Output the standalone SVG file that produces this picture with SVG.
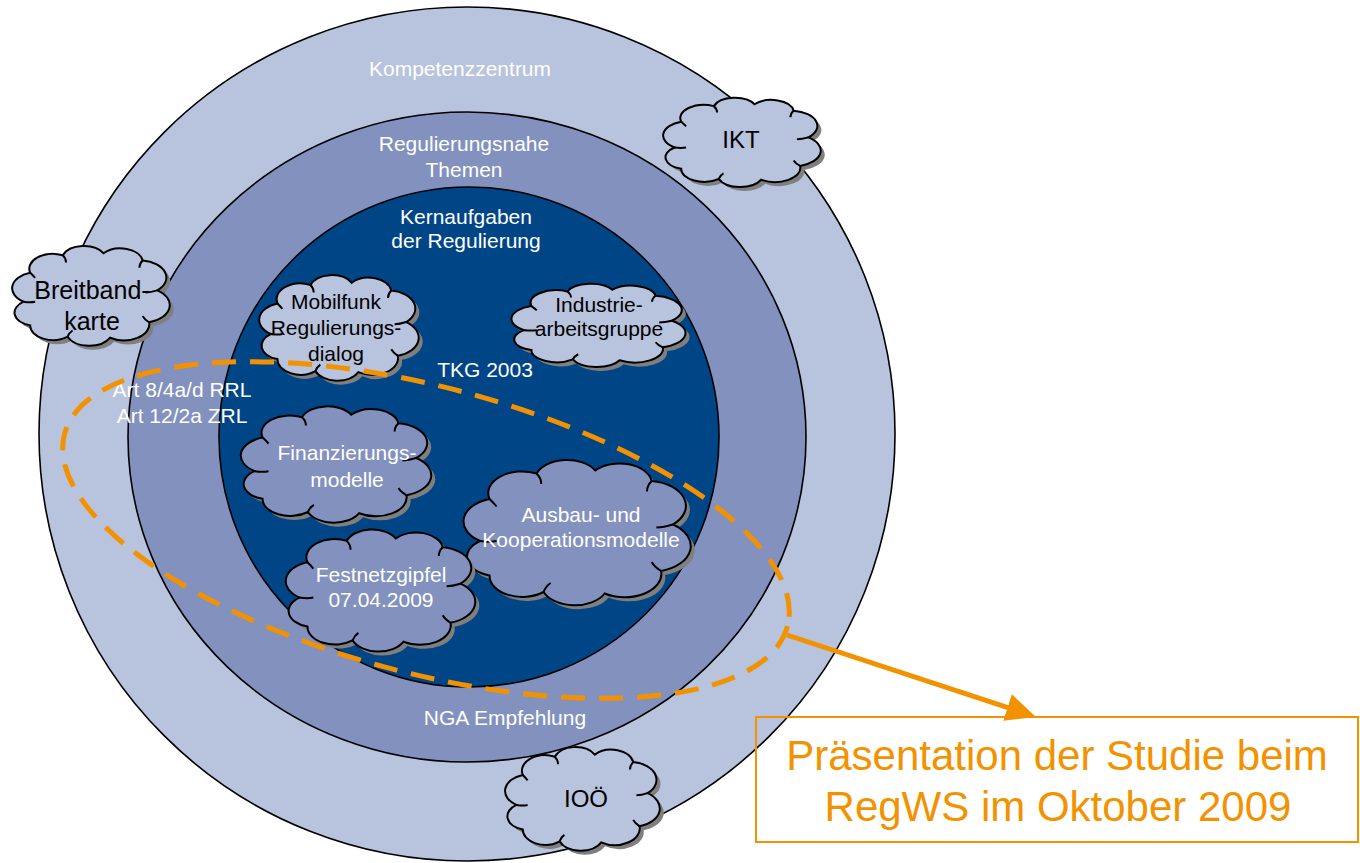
<svg xmlns="http://www.w3.org/2000/svg" xmlns:xlink="http://www.w3.org/1999/xlink" width="1360" height="863" viewBox="0 0 1360 863">
<style>
.ring{stroke:#000;stroke-width:1.6}
.outer{fill:#B8C3DD}
.middle{fill:#8291BE}
.inner{fill:#004586}
.cl{fill:#B8C3DD;stroke:#000;stroke-width:2}
.cm{fill:#8291BE;stroke:#000;stroke-width:2}
.sh{fill:#7F7F7F;stroke:none}
.det{fill:none;stroke:#000;stroke-width:2}
text{font-family:"Liberation Sans",Arial,sans-serif;text-anchor:middle}
.w{fill:#fff;font-size:21px}
.b{fill:#000;font-size:21px}
.big{fill:#000;font-size:25px}
.or{fill:#F39200;font-size:42px}
</style>
<defs>
<path id="cloud" vector-effect="non-scaling-stroke" d="M9,56 A15.6,15.6 0 0 1 13,28 A14.4,14.4 0 0 1 33,11 A13.8,13.8 0 0 1 58,9 A13.8,13.8 0 0 1 82,16 A16.7,16.7 0 0 1 91,45 A17.3,17.3 0 0 1 86,76 A15.6,15.6 0 0 1 62,91 A14.3,14.3 0 0 1 36,90 A14,14 0 0 1 13,79 A12.8,12.8 0 0 1 9,56 Z"/>
<path id="cdet" vector-effect="non-scaling-stroke" d="M9,56 Q13,57 16,56 M33,11 Q35,14 35,18 M82,16 Q80,19 80,23 M91,45 Q87,47 84,47 M86,76 Q83,73 82,70 M36,90 Q37,86 39,84 M13,28 Q15,31 16,33"/>
<marker id="ah" viewBox="0 0 30 28" refX="10" refY="14" markerWidth="30" markerHeight="28" markerUnits="userSpaceOnUse" orient="auto">
<path d="M0,0 L30,14 L0,28 Z" fill="#F39200"/>
</marker>
</defs>

<g id="ring-outer"><ellipse class="ring outer" cx="467" cy="434" rx="428" ry="427"/></g>
<g id="ring-middle"><ellipse class="ring middle" cx="467" cy="437" rx="339" ry="325"/></g>
<g id="ring-inner"><ellipse class="ring inner" cx="469" cy="437" rx="250" ry="250"/></g>

<g id="labels">
<text class="w" x="460" y="76">Kompetenzzentrum</text>
<text class="w" x="464" y="151">Regulierungsnahe</text>
<text class="w" x="464" y="177">Themen</text>
<text class="w" x="466" y="224">Kernaufgaben</text>
<text class="w" x="466" y="248">der Regulierung</text>
<text class="w" x="485" y="377">TKG 2003</text>
<text class="w" x="182" y="397">Art 8/4a/d RRL</text>
<text class="w" x="182" y="423">Art 12/2a ZRL</text>
<text class="w" x="505" y="725">NGA Empfehlung</text>
</g>

<g id="ikt">
<use href="#cloud" class="sh" transform="translate(664,100) scale(1.63,0.92)"/>
<use href="#cloud" class="cl" transform="translate(660,96) scale(1.63,0.92)"/>
<use href="#cdet" class="det" transform="translate(660,96) scale(1.63,0.92)"/>
<text class="big" x="741" y="148" style="font-size:24px">IKT</text>
</g>

<g id="breitbandkarte">
<use href="#cloud" class="sh" transform="translate(13,248) scale(1.63,1.03)"/>
<use href="#cloud" class="cl" transform="translate(9,244) scale(1.63,1.03)"/>
<use href="#cdet" class="det" transform="translate(9,244) scale(1.63,1.03)"/>
<text class="big" x="92" y="299">Breitband-</text>
<text class="big" x="92" y="330">karte</text>
</g>

<g id="ioe">
<use href="#cloud" class="sh" transform="translate(506,749) scale(1.6,1.07)"/>
<use href="#cloud" class="cl" transform="translate(502,745) scale(1.6,1.07)"/>
<use href="#cdet" class="det" transform="translate(502,745) scale(1.6,1.07)"/>
<text class="big" x="586" y="807" style="font-size:24px">IOÖ</text>
</g>

<g id="mobilfunk">
<use href="#cloud" class="sh" transform="translate(260,277) scale(1.65,1.09)"/>
<use href="#cloud" class="cl" transform="translate(256,273) scale(1.65,1.09)"/>
<use href="#cdet" class="det" transform="translate(256,273) scale(1.65,1.09)"/>
<text class="b" x="336" y="309">Mobilfunk</text>
<text class="b" x="336" y="335">Regulierungs-</text>
<text class="b" x="336" y="361">dialog</text>
</g>

<g id="industrie">
<use href="#cloud" class="sh" transform="translate(512,286) scale(1.8,0.86)"/>
<use href="#cloud" class="cl" transform="translate(508,282) scale(1.8,0.86)"/>
<use href="#cdet" class="det" transform="translate(508,282) scale(1.8,0.86)"/>
<text class="b" x="599" y="312">Industrie-</text>
<text class="b" x="599" y="336">arbeitsgruppe</text>
</g>

<g id="finanzierung">
<use href="#cloud" class="sh" transform="translate(241,408) scale(1.97,1.2)"/>
<use href="#cloud" class="cm" transform="translate(237,404) scale(1.97,1.2)"/>
<use href="#cdet" class="det" transform="translate(237,404) scale(1.97,1.2)"/>
<text class="w" x="347" y="460">Finanzierungs-</text>
<text class="w" x="347" y="487">modelle</text>
</g>

<g id="ausbau">
<use href="#cloud" class="sh" transform="translate(463,461) scale(2.35,1.5)"/>
<use href="#cloud" class="cm" transform="translate(459,457) scale(2.35,1.5)"/>
<use href="#cdet" class="det" transform="translate(459,457) scale(2.35,1.5)"/>
<text class="w" x="581" y="522">Ausbau- und</text>
<text class="w" x="581" y="547">Kooperationsmodelle</text>
</g>

<g id="festnetz">
<use href="#cloud" class="sh" transform="translate(286,531) scale(1.96,1.26)"/>
<use href="#cloud" class="cm" transform="translate(282,527) scale(1.96,1.26)"/>
<use href="#cdet" class="det" transform="translate(282,527) scale(1.96,1.26)"/>
<text class="w" x="381" y="582">Festnetzgipfel</text>
<text class="w" x="381" y="607">07.04.2009</text>
</g>

<g id="connectors">
<ellipse cx="426" cy="530" rx="374" ry="143" transform="rotate(14.9 426 530)" fill="none" stroke="#F39200" stroke-width="5" stroke-dasharray="24 14"/>
<line x1="787" y1="635" x2="1017" y2="710.7" stroke="#F39200" stroke-width="5" marker-end="url(#ah)"/>
</g>

<g id="praesentation">
<rect x="756" y="717" width="602" height="125" fill="none" stroke="#F39200" stroke-width="2"/>
<text class="or" x="1057" y="770">Präsentation der Studie beim</text>
<text class="or" x="1058" y="821">RegWS im Oktober 2009</text>
</g>
</svg>
